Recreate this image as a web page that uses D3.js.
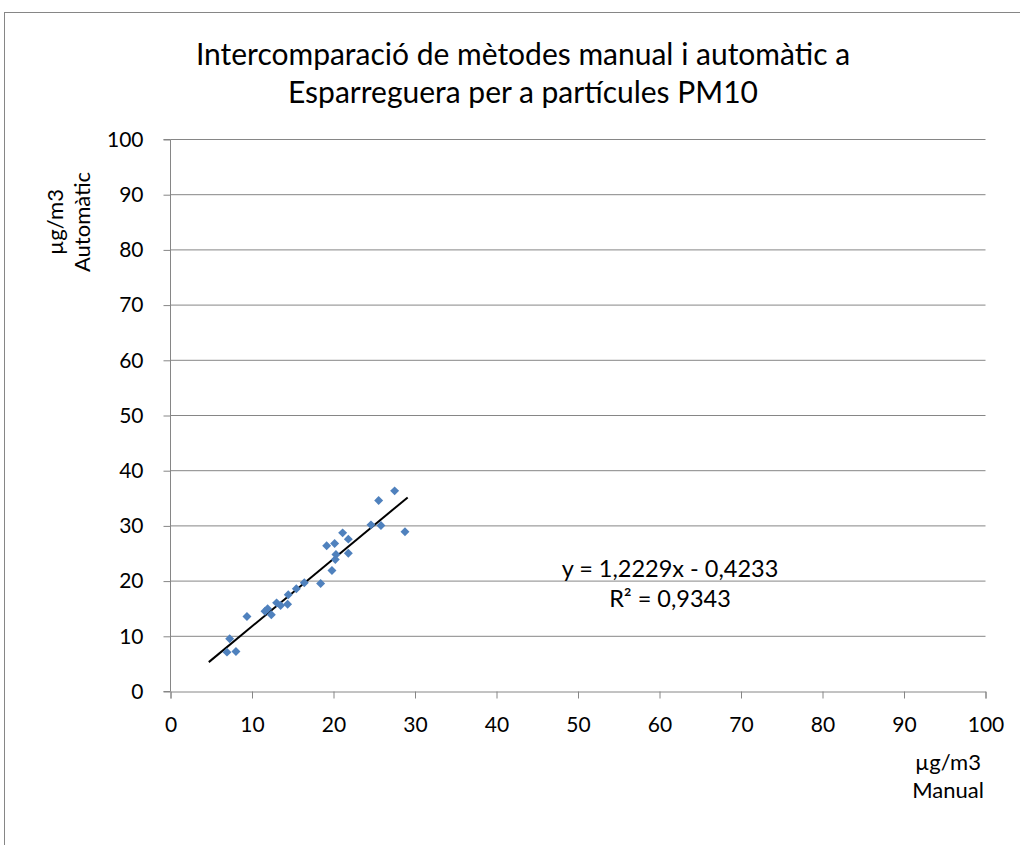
<!DOCTYPE html>
<html><head><meta charset="utf-8">
<script src="https://cdn.jsdelivr.net/npm/d3@7"></script>
<style>body{margin:0;background:#fff}svg{display:block}text{font-family:Lato,"Open Sans",sans-serif;fill:#000}</style>
</head><body>
<script>
const titleLines = ["Intercomparació de mètodes manual i automàtic a", "Esparreguera per a partícules PM10"];
const manualValues = [6.93, 8.03, 7.26, 9.38, 11.59, 11.92, 12.37, 13.02, 13.51, 14.37, 14.45, 15.44, 16.42, 18.42, 19.16, 20.14, 19.81, 20.22, 20.3, 21.12, 21.82, 21.82, 24.6, 25.82, 25.54, 27.5, 28.77];
const automaticValues = [7.13, 7.25, 9.54, 13.59, 14.55, 14.98, 13.89, 16.06, 15.58, 15.82, 17.51, 18.6, 19.69, 19.57, 26.39, 26.81, 21.92, 23.91, 24.82, 28.74, 27.6, 25.06, 30.19, 30.07, 34.6, 36.35, 28.93];
const trendSlope = 1.2229, trendIntercept = -0.4233;
const trendRange = [4.7, 29.1];
const equationLines = ["y = 1,2229x - 0,4233", "R² = 0,9343"];
const tickValues = [0,10,20,30,40,50,60,70,80,90,100];
const xLabelLines = ["µg/m3", "Manual"];
const yLabelLines = ["µg/m3", "Automàtic"];

const W = 1020, H = 845;
const svg = d3.select("body").append("svg").attr("width", W).attr("height", H);
svg.append("rect").attr("x",4.5).attr("y",12.5).attr("width",W+20).attr("height",H+20)
  .attr("fill","#fff").attr("stroke","#868686").attr("stroke-width",1);

const x = d3.scaleLinear().domain([0,100]).range([170.5,985.5]);
const y = d3.scaleLinear().domain([0,100]).range([691.5,139.5]);

// gridlines
svg.append("g").selectAll("line").data(tickValues.filter(d=>d>0)).join("line")
  .attr("x1",x(0)).attr("x2",x(100)).attr("y1",d=>y(d)).attr("y2",d=>y(d))
  .attr("stroke","#868686").attr("stroke-width",1);

// axes
const gx = svg.append("g").attr("transform",`translate(0,${y(0)})`)
  .call(d3.axisBottom(x).tickValues(tickValues).tickSize(7).tickPadding(19).tickFormat(d3.format("d")));
const gy = svg.append("g").attr("transform",`translate(${x(0)},0)`)
  .call(d3.axisLeft(y).tickValues(tickValues).tickSize(7).tickPadding(20).tickFormat(d3.format("d")));
[gx,gy].forEach(g=>{
  g.select(".domain").attr("stroke","#868686");
  g.selectAll(".tick line").attr("stroke","#868686");
  g.selectAll(".tick text").attr("font-size",21).attr("font-family","Lato, sans-serif").attr("fill","#000");
});
gy.select(".domain").attr("d",`M-7,${y(100)}H0V${y(0)}H-7`);

// trendline
svg.append("line")
  .attr("x1",x(trendRange[0])).attr("y1",y(trendSlope*trendRange[0]+trendIntercept))
  .attr("x2",x(trendRange[1])).attr("y2",y(trendSlope*trendRange[1]+trendIntercept))
  .attr("stroke","#000").attr("stroke-width",2);

// points
const pts = manualValues.map((v,i)=>[v, automaticValues[i]]);
svg.append("g").selectAll("path").data(pts).join("path")
  .attr("d", d3.symbol().type(d3.symbolSquare).size(40))
  .attr("transform", d=>`translate(${x(d[0])},${y(d[1])}) rotate(45)`)
  .attr("fill","#4F81BD");

// equation
svg.append("g").selectAll("text").data(equationLines).join("text")
  .attr("x",670).attr("y",(d,i)=>577+i*30).attr("text-anchor","middle").attr("font-size",23.5).text(d=>d);

// title
svg.append("g").selectAll("text").data(titleLines).join("text")
  .attr("x",523).attr("y",(d,i)=>65+i*38).attr("text-anchor","middle").attr("font-size",30).text(d=>d);

// x label
svg.append("g").selectAll("text").data(xLabelLines).join("text")
  .attr("x",948).attr("y",(d,i)=>770+i*28).attr("text-anchor","middle").attr("font-size",22).text(d=>d);

// y label
svg.append("g").attr("transform","translate(0,222) rotate(-90)").selectAll("text").data(yLabelLines).join("text")
  .attr("x",0).attr("y",(d,i)=>63+i*27).attr("text-anchor","middle").attr("font-size",22).text(d=>d);
</script>
</body></html>
